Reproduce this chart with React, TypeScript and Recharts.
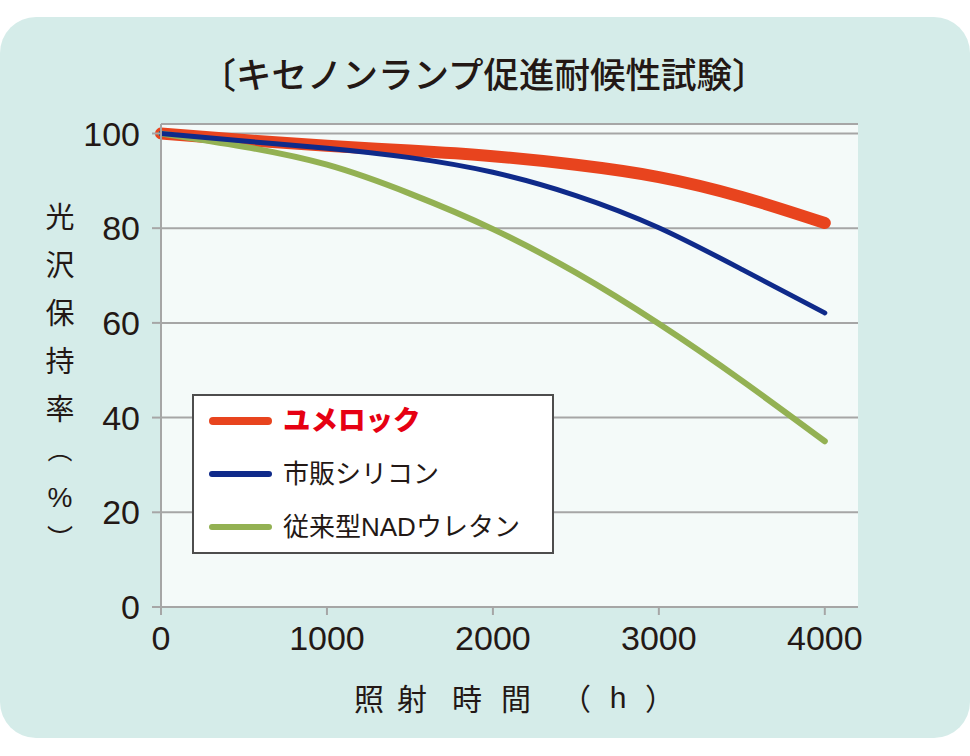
import React from "react";
import { LineChart, Line, XAxis, YAxis, CartesianGrid } from "recharts";

const hours = [0, 500, 1000, 1500, 2000, 2500, 3000, 3500, 4000];
const yumerock = [100, 98.6, 97.4, 96.4, 95.2, 93.4, 90.8, 86.6, 81.1];
const silicone = [100, 98.4, 96.9, 94.9, 91.8, 86.9, 80.1, 71.3, 62.1];
const urethane = [100, 97.2, 93.4, 87.3, 79.8, 70.6, 59.8, 47.8, 35.0];

const xTicks = [0, 1000, 2000, 3000, 4000];
const yTicks = [0, 20, 40, 60, 80, 100];

const titleText = "〔キセノンランプ促進耐候性試験〕";
const yLabelChars = ["光", "沢", "保", "持", "率", "︵", "%", "︶"];
const xLabelChars = ["照", "射", "時", "間", "（", "h", "）"];

const seriesNames = ["ユメロック", "市販シリコン", "従来型NADウレタン"];
const seriesColors = ["#e8441e", "#0f2a8a", "#93b153"];

const data = hours.map((h, i) => ({
  h,
  yumerock: yumerock[i],
  silicone: silicone[i],
  urethane: urethane[i],
}));

const TEXT = "#231815";
const GRAY = "#a6a6a6";
const JP = "'Noto Sans CJK JP', 'Noto Sans', sans-serif";
const MIX = "'Liberation Sans', 'Noto Sans CJK JP', sans-serif";
const NUM = "'Liberation Sans', Arial, sans-serif";

const YLabel = () => {
  const ys = [215, 263, 311, 359, 407, 448, 497, 536];
  const sizes = [29, 29, 29, 29, 29, 25, 28, 26];
  return (
    <text
      textAnchor="middle"
      dominantBaseline="central"
      fontSize={29}
      fontFamily={JP}
      fill={TEXT}
    >
      {yLabelChars.map((c, i) => (
        <tspan
          key={i}
          x={60}
          y={ys[i]}
          fontSize={sizes[i]}
          fontFamily={i === 6 ? NUM : JP}
          dominantBaseline="central"
        >
          {c}
        </tspan>
      ))}
    </text>
  );
};

const XLabel = () => {
  const xs = [369, 412, 467, 516, 576, 618, 660];
  return (
    <g>
      {xLabelChars.map((c, i) => (
        <text
          key={i}
          x={xs[i]}
          y={697}
          textAnchor="middle"
          dominantBaseline="central"
          fontSize={30}
          fontFamily={c === "h" ? NUM : JP}
          fill={TEXT}
        >
          {c}
        </text>
      ))}
    </g>
  );
};

const LegendBox = () => (
  <div
    style={{
      position: "absolute",
      left: 192,
      top: 394,
      width: 362,
      height: 160,
      boxSizing: "border-box",
      border: "2px solid #4d4d4d",
      background: "#ffffff",
    }}
  >
    {seriesNames.map((name, i) => (
      <div
        key={name}
        style={{
          position: "absolute",
          left: 15,
          top: [25, 78, 131][i] - 20,
          height: 40,
          display: "flex",
          alignItems: "center",
        }}
      >
        <div
          style={{
            width: 63,
            height: i === 0 ? 8 : 6,
            borderRadius: 4,
            background: seriesColors[i],
          }}
        />
        <span
          style={{
            marginLeft: 11,
            fontFamily: MIX,
            fontSize: i === 0 ? 27.5 : 26,
            fontWeight: i === 0 ? 900 : 400,
            color: i === 0 ? "#e60012" : TEXT,
            whiteSpace: "nowrap",
            lineHeight: "40px",
          }}
        >
          {name}
        </span>
      </div>
    ))}
  </div>
);

export default function App() {
  return (
    <div
      style={{
        position: "absolute",
        left: 0,
        top: 0,
        width: 970,
        height: 756,
        background: "#ffffff",
        overflow: "hidden",
      }}
    >
      <div
        style={{
          position: "absolute",
          left: 0,
          top: 17,
          width: 970,
          height: 721,
          borderRadius: 36,
          background: "#d5ece9",
        }}
      />
      <div
        style={{
          position: "absolute",
          left: 0,
          top: 51,
          width: 968,
          textAlign: "center",
          fontFamily: JP,
          fontSize: 35.5,
          fontWeight: 500,
          lineHeight: "44px",
          color: TEXT,
          whiteSpace: "nowrap",
        }}
      >
        {titleText}
      </div>
      <div style={{ position: "absolute", left: 0, top: 0 }}>
        <LineChart
          width={970}
          height={756}
          data={data}
          margin={{ top: 124, right: 112, bottom: 89, left: 61 }}
        >
          <CartesianGrid
            horizontal={true}
            vertical={false}
            fill="#f4faf9"
            stroke={GRAY}
            strokeWidth={2}
          />
          <XAxis
            dataKey="h"
            type="number"
            domain={[0, 4200]}
            ticks={xTicks}
            height={60}
            axisLine={{ stroke: GRAY, strokeWidth: 2 }}
            tickLine={{ stroke: GRAY, strokeWidth: 2 }}
            tickSize={8}
            tickMargin={11}
            tick={{ fontSize: 34, fontFamily: NUM, fill: TEXT }}
            interval={0}
          />
          <YAxis
            type="number"
            domain={[0, 102]}
            ticks={yTicks}
            width={100}
            axisLine={{ stroke: GRAY, strokeWidth: 2 }}
            tickLine={{ stroke: GRAY, strokeWidth: 2 }}
            tickSize={9}
            tickMargin={12}
            tick={{ fontSize: 34, fontFamily: NUM, fill: TEXT }}
            interval={0}
          />
          <Line
            type="natural"
            dataKey="yumerock"
            name={seriesNames[0]}
            stroke={seriesColors[0]}
            strokeWidth={12}
            strokeLinecap="round"
            dot={false}
            activeDot={false}
            isAnimationActive={false}
          />
          <Line
            type="natural"
            dataKey="urethane"
            name={seriesNames[2]}
            stroke={seriesColors[2]}
            strokeWidth={6}
            strokeLinecap="round"
            dot={false}
            activeDot={false}
            isAnimationActive={false}
          />
          <Line
            type="natural"
            dataKey="silicone"
            name={seriesNames[1]}
            stroke={seriesColors[1]}
            strokeWidth={5}
            strokeLinecap="round"
            dot={false}
            activeDot={false}
            isAnimationActive={false}
          />
          <YLabel />
          <XLabel />
        </LineChart>
      </div>
      <LegendBox />
    </div>
  );
}
